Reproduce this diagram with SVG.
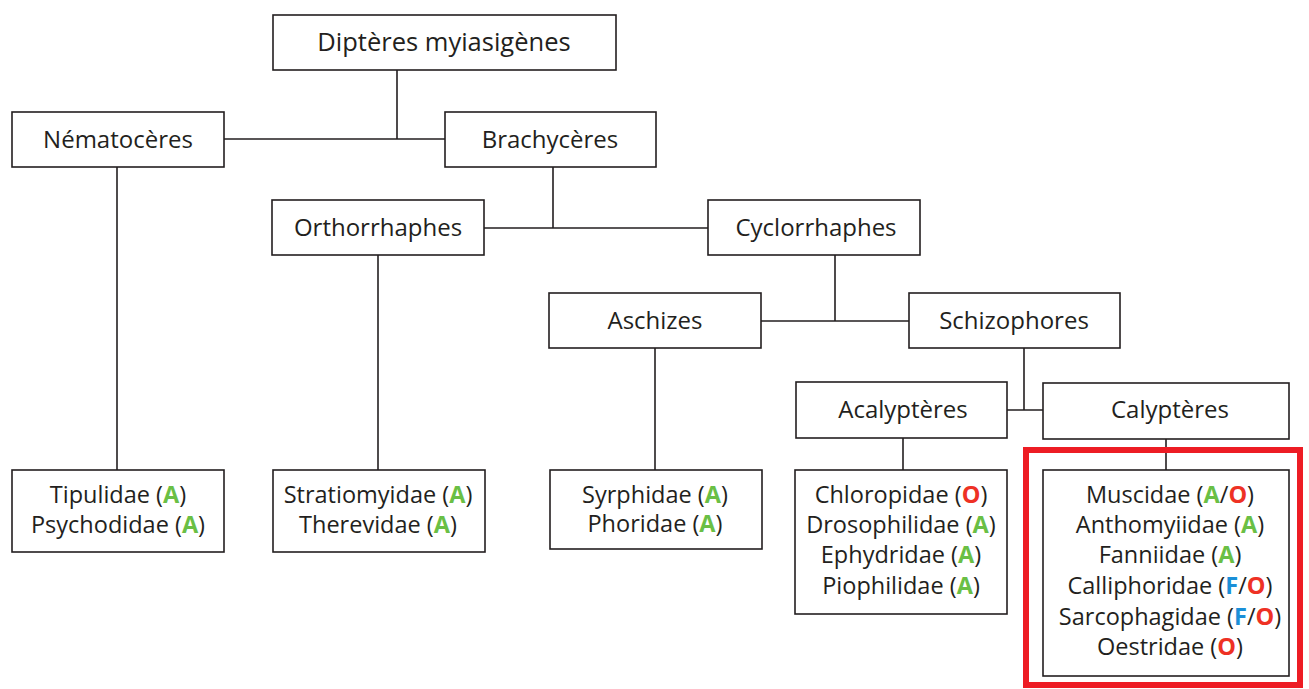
<svg xmlns="http://www.w3.org/2000/svg" width="1309" height="689" viewBox="0 0 1309 689">
<style>
.box{fill:#fff;stroke:#231f20;stroke-width:1.6}
.t{font-family:"Open Sans","Noto Sans","Liberation Sans",sans-serif;font-size:23.5px;fill:#231f20;text-anchor:middle}
.n{font-size:24px}
.h{font-size:25.5px}
.a{fill:#6abf45;font-weight:bold}
.o{fill:#ee3124;font-weight:bold}
.f{fill:#1a8fd8;font-weight:bold}
.c{stroke:#231f20;stroke-width:1.6;fill:none}
</style>
<rect width="1309" height="689" fill="#fff"/>
<g id="connectors" class="c">
<path d="M397 70V139M224 139H445"/>
<path d="M553 167V228M484 228H708"/>
<path d="M835 255V321M761 321H909"/>
<path d="M1024 348V410M1007 410H1043"/>
<path d="M117 167V470"/>
<path d="M378 255V470"/>
<path d="M655 348V470"/>
<path d="M903 438V470"/>
<path d="M1166 439V470"/>
</g>
<g id="n-dipteres"><rect class="box" x="273" y="15" width="343" height="55"/><text class="t h" x="444" y="51">Diptères myiasigènes</text></g>
<g id="n-nematoceres"><rect class="box" x="12" y="112" width="212" height="55"/><text class="t n" x="118" y="148">Nématocères</text></g>
<g id="n-brachyceres"><rect class="box" x="445" y="112" width="211" height="55"/><text class="t n" x="550" y="148">Brachycères</text></g>
<g id="n-orthorrhaphes"><rect class="box" x="272" y="200" width="212" height="55"/><text class="t n" x="378" y="236">Orthorrhaphes</text></g>
<g id="n-cyclorrhaphes"><rect class="box" x="708" y="200" width="212" height="55"/><text class="t n" x="816" y="236">Cyclorrhaphes</text></g>
<g id="n-aschizes"><rect class="box" x="549" y="293" width="212" height="55"/><text class="t n" x="655" y="329">Aschizes</text></g>
<g id="n-schizophores"><rect class="box" x="909" y="293" width="211" height="55"/><text class="t n" x="1014" y="329">Schizophores</text></g>
<g id="n-acalypteres"><rect class="box" x="796" y="382" width="211" height="56"/><text class="t n" x="903" y="418">Acalyptères</text></g>
<g id="n-calypteres"><rect class="box" x="1043" y="383" width="246" height="56"/><text class="t n" x="1170" y="418">Calyptères</text></g>
<g id="n-tipulidae"><rect class="box" x="12" y="470" width="212" height="82"/>
<text class="t" x="118" y="503">Tipulidae (<tspan class="a">A</tspan>)</text>
<text class="t" x="118" y="533">Psychodidae (<tspan class="a">A</tspan>)</text></g>
<g id="n-stratiomyidae"><rect class="box" x="273" y="470" width="212" height="82"/>
<text class="t" x="378" y="503">Stratiomyidae (<tspan class="a">A</tspan>)</text>
<text class="t" x="378" y="533">Therevidae (<tspan class="a">A</tspan>)</text></g>
<g id="n-syrphidae"><rect class="box" x="550" y="470" width="212" height="79"/>
<text class="t" x="655" y="503">Syrphidae (<tspan class="a">A</tspan>)</text>
<text class="t" x="655" y="532">Phoridae (<tspan class="a">A</tspan>)</text></g>
<g id="n-chloropidae"><rect class="box" x="795" y="470" width="212" height="144"/>
<text class="t" x="901" y="503">Chloropidae (<tspan class="o">O</tspan>)</text>
<text class="t" x="901" y="533">Drosophilidae (<tspan class="a">A</tspan>)</text>
<text class="t" x="901" y="563">Ephydridae (<tspan class="a">A</tspan>)</text>
<text class="t" x="901" y="594">Piophilidae (<tspan class="a">A</tspan>)</text></g>
<g id="n-muscidae"><rect class="box" x="1043" y="470" width="246" height="206"/>
<text class="t" x="1170" y="503">Muscidae (<tspan class="a">A</tspan>/<tspan class="o">O</tspan>)</text>
<text class="t" x="1170" y="533">Anthomyiidae (<tspan class="a">A</tspan>)</text>
<text class="t" x="1170" y="563">Fanniidae (<tspan class="a">A</tspan>)</text>
<text class="t" x="1170" y="594">Calliphoridae (<tspan class="f">F</tspan>/<tspan class="o">O</tspan>)</text>
<text class="t" x="1170" y="625">Sarcophagidae (<tspan class="f">F</tspan>/<tspan class="o">O</tspan>)</text>
<text class="t" x="1170" y="655">Oestridae (<tspan class="o">O</tspan>)</text></g>
<rect id="highlight" x="1026" y="450" width="274" height="235" fill="none" stroke="#ed1c24" stroke-width="6"/>
</svg>
